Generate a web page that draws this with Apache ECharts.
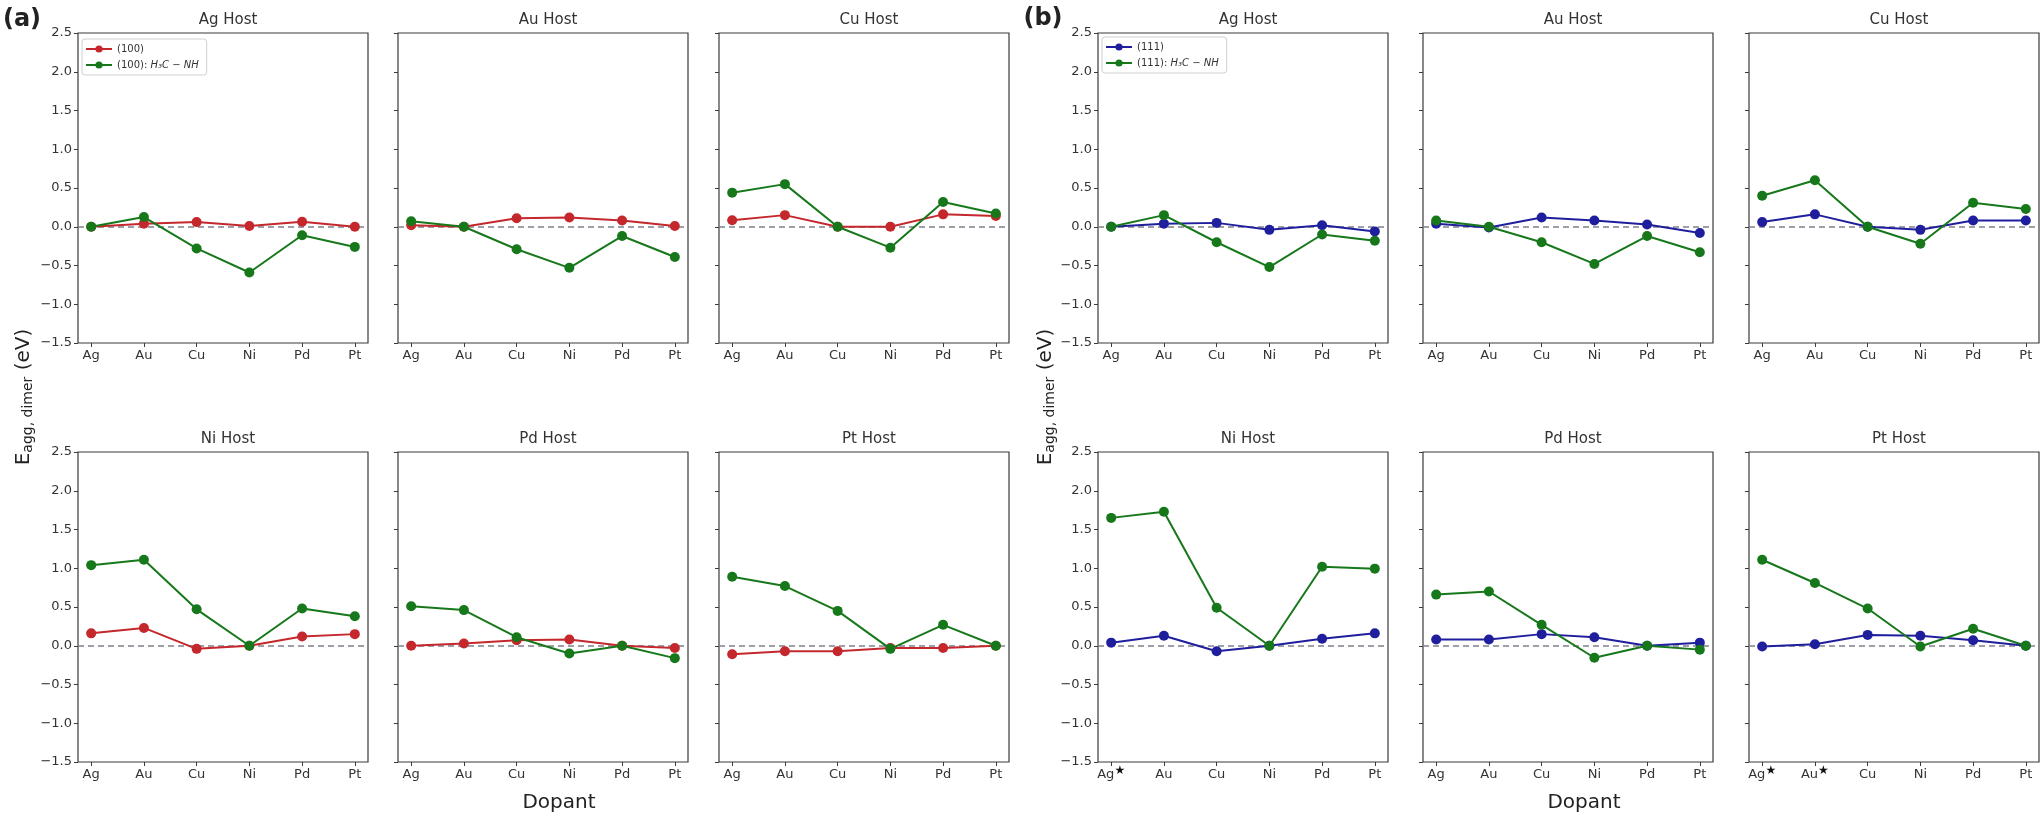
<!DOCTYPE html>
<html>
<head>
<meta charset="utf-8">
<script src="https://cdn.jsdelivr.net/npm/echarts@6/dist/echarts.min.js"></script>
<style>
  html, body { margin: 0; padding: 0; background: #fff; }
  #chart { width: 2042px; height: 819px; }
</style>
</head>
<body>
<div id="chart"></div>
<script>
// tick labels
const dopants = ['Ag', 'Au', 'Cu', 'Ni', 'Pd', 'Pt'];
const dopantsNi111 = ['Ag*', 'Au', 'Cu', 'Ni', 'Pd', 'Pt'];
const dopantsPt111 = ['Ag*', 'Au*', 'Cu', 'Ni', 'Pd', 'Pt'];
const hosts = ['Ag Host', 'Au Host', 'Cu Host', 'Ni Host', 'Pd Host', 'Pt Host'];

// (a) (100) surface, bare vs H3C-NH
const ag100 = [0.00, 0.04, 0.06, 0.01, 0.065, 0.00];
const ag100nh = [0.00, 0.125, -0.28, -0.59, -0.11, -0.26];
const au100 = [0.02, 0.00, 0.11, 0.12, 0.08, 0.01];
const au100nh = [0.07, 0.00, -0.29, -0.53, -0.12, -0.39];
const cu100 = [0.085, 0.15, 0.00, 0.00, 0.16, 0.14];
const cu100nh = [0.44, 0.55, 0.00, -0.27, 0.32, 0.17];
const ni100 = [0.16, 0.23, -0.04, 0.00, 0.12, 0.15];
const ni100nh = [1.04, 1.11, 0.47, 0.00, 0.48, 0.38];
const pd100 = [0.00, 0.03, 0.07, 0.08, 0.00, -0.03];
const pd100nh = [0.51, 0.46, 0.11, -0.10, 0.00, -0.16];
const pt100 = [-0.11, -0.07, -0.07, -0.03, -0.03, 0.00];
const pt100nh = [0.89, 0.77, 0.45, -0.04, 0.27, 0.00];

// (b) (111) surface, bare vs H3C-NH
const ag111 = [0.00, 0.04, 0.05, -0.04, 0.02, -0.06];
const ag111nh = [0.00, 0.15, -0.20, -0.52, -0.10, -0.18];
const au111 = [0.04, -0.01, 0.12, 0.08, 0.03, -0.08];
const au111nh = [0.08, 0.00, -0.20, -0.48, -0.12, -0.33];
const cu111 = [0.06, 0.16, 0.00, -0.04, 0.08, 0.08];
const cu111nh = [0.40, 0.60, 0.00, -0.22, 0.31, 0.23];
const ni111 = [0.04, 0.13, -0.07, 0.00, 0.09, 0.16];
const ni111nh = [1.65, 1.73, 0.49, 0.00, 1.02, 0.995];
const pd111 = [0.08, 0.08, 0.15, 0.11, 0.00, 0.04];
const pd111nh = [0.66, 0.70, 0.27, -0.155, 0.00, -0.05];
const pt111 = [-0.01, 0.02, 0.14, 0.13, 0.07, 0.00];
const pt111nh = [1.11, 0.81, 0.48, -0.01, 0.22, 0.00];

const RED = '#c4272c';
const GREEN = '#16781a';
const BLUE = '#1f1f9e';
const FONT = 'DejaVu Sans';

const partA = {
  clean: [ag100, au100, cu100, ni100, pd100, pt100],
  nh: [ag100nh, au100nh, cu100nh, ni100nh, pd100nh, pt100nh],
  labels: [dopants, dopants, dopants, dopants, dopants, dopants],
  names: ['(100)', '(100): H3C-NH'],
  color: RED,
  lefts: [78, 398, 719]
};
const partB = {
  clean: [ag111, au111, cu111, ni111, pd111, pt111],
  nh: [ag111nh, au111nh, cu111nh, ni111nh, pd111nh, pt111nh],
  labels: [dopants, dopants, dopants, dopantsNi111, dopants, dopantsPt111],
  names: ['(111)', '(111): H3C-NH'],
  color: BLUE,
  lefts: [1098, 1423, 1749]
};
const tops = [33, 452];
const W = 290, H = 310;

const grid = [], xAxis = [], yAxis = [], series = [], title = [];

function starLabel(s) {
  // matplotlib-style superscript star after the element
  return s.indexOf('*') >= 0 ? '{t|' + s.replace('*', '') + '}{s|★}' : '{t|' + s + '}';
}

[partA, partB].forEach(function (part) {
  for (let i = 0; i < 6; i++) {
    const row = Math.floor(i / 3), col = i % 3;
    const idx = grid.length;
    const left = part.lefts[col], top = tops[row];
    grid.push({
      left: left, top: top, width: W, height: H,
      show: true, borderColor: '#3a3a3a', borderWidth: 1.2,
      backgroundColor: 'transparent'
    });
    title.push({
      text: hosts[i], left: left + W / 2, top: top - 25, textAlign: 'center',
      textStyle: { fontFamily: FONT, fontSize: 15, fontWeight: 'normal', color: '#333' }
    });
    const labels = part.labels[i];
    xAxis.push({
      type: 'value', gridIndex: idx, min: -0.25, max: 5.25,
      axisLine: { show: false, onZero: false },
      splitLine: { show: false },
      axisTick: { show: true, length: 4, customValues: [0, 1, 2, 3, 4, 5],
        lineStyle: { color: '#3a3a3a', width: 1 } },
      axisLabel: {
        customValues: [0, 1, 2, 3, 4, 5],
        fontFamily: FONT, fontSize: 13, color: '#333', margin: 3,
        formatter: function (v) { return starLabel(labels[Math.round(v)]); },
        rich: {
          t: { fontFamily: FONT, fontSize: 13, color: '#333', lineHeight: 19 },
          s: { fontFamily: FONT, fontSize: 12, color: '#111', verticalAlign: 'bottom', padding: [0, 0, 7, 0] }
        }
      }
    });
    yAxis.push({
      type: 'value', gridIndex: idx, min: -1.5, max: 2.5, interval: 0.5,
      axisLine: { show: false, onZero: false },
      splitLine: { show: false },
      axisTick: { show: true, length: 4, lineStyle: { color: '#3a3a3a', width: 1 } },
      axisLabel: {
        show: col === 0, fontFamily: FONT, fontSize: 13, color: '#333', margin: 6,
        formatter: function (v) { return v.toFixed(1).replace('-', '−'); }
      }
    });
    const clean = part.clean[i], nh = part.nh[i];
    series.push({
      name: part.names[0], type: 'line', xAxisIndex: idx, yAxisIndex: idx,
      data: clean.map(function (v, k) { return [k, v]; }),
      symbol: 'circle', symbolSize: 10, color: part.color,
      lineStyle: { width: 2, color: part.color }, z: 3,
      markLine: {
        silent: true, symbol: 'none', label: { show: false },
        lineStyle: { type: [6, 4], color: '#80808c', width: 1.7 },
        data: [{ yAxis: 0 }], z: 2
      }
    });
    series.push({
      name: part.names[1], type: 'line', xAxisIndex: idx, yAxisIndex: idx,
      data: nh.map(function (v, k) { return [k, v]; }),
      symbol: 'circle', symbolSize: 10, color: GREEN,
      lineStyle: { width: 2, color: GREEN }, z: 4
    });
  }
});

function legendFmt(name) {
  const p = name.split(': ');
  if (p.length === 1) return '{n|' + name + '}';
  return '{n|' + p[0] + ': }{m|H₃C − NH}';
}
const legendText = {
  fontFamily: FONT, fontSize: 10, color: '#333',
  rich: {
    n: { fontFamily: FONT, fontSize: 10, color: '#333' },
    m: { fontFamily: FONT, fontSize: 10, color: '#333', fontStyle: 'italic' }
  }
};
const legend = [
  {
    data: partA.names, left: 82, top: 39, orient: 'vertical',
    itemWidth: 26, itemHeight: 9, itemGap: 6, padding: [5, 8, 5, 3],
    borderColor: '#d0d0d0', borderWidth: 1, borderRadius: 3,
    backgroundColor: 'rgba(255,255,255,0.8)',
    formatter: legendFmt, textStyle: legendText, selectedMode: false
  },
  {
    data: partB.names, left: 1102, top: 37, orient: 'vertical',
    itemWidth: 26, itemHeight: 9, itemGap: 6, padding: [5, 8, 5, 3],
    borderColor: '#d0d0d0', borderWidth: 1, borderRadius: 3,
    backgroundColor: 'rgba(255,255,255,0.8)',
    formatter: legendFmt, textStyle: legendText, selectedMode: false
  }
];

function yLabel(x) {
  return {
    type: 'text', x: x, y: 397, rotation: Math.PI / 2,
    style: {
      text: '{e|E}{s|agg, dimer}{e| (eV)}',
      align: 'center', verticalAlign: 'middle',
      rich: {
        e: { fontFamily: FONT, fontSize: 20, fill: '#222' },
        s: { fontFamily: FONT, fontSize: 14, fill: '#222', verticalAlign: 'bottom', padding: [8, 0, 0, 0] }
      }
    }
  };
}
function bigText(text, x, y, size, weight) {
  return {
    type: 'text', x: x, y: y,
    style: {
      text: text, fontFamily: FONT, fontSize: size, fontWeight: weight || 'normal',
      fill: '#222', align: 'center', verticalAlign: 'middle'
    }
  };
}

const chart = echarts.init(document.getElementById('chart'), null, { renderer: 'canvas' });
chart.setOption({
  backgroundColor: '#fff',
  animation: false,
  title: title,
  legend: legend,
  grid: grid,
  xAxis: xAxis,
  yAxis: yAxis,
  series: series,
  graphic: [
    bigText('(a)', 22, 20, 24, 'bold'),
    bigText('(b)', 1043, 19, 24, 'bold'),
    bigText('Dopant', 559, 803, 20),
    bigText('Dopant', 1584, 803, 20),
    yLabel(24),
    yLabel(1046)
  ]
});
</script>
</body>
</html>
